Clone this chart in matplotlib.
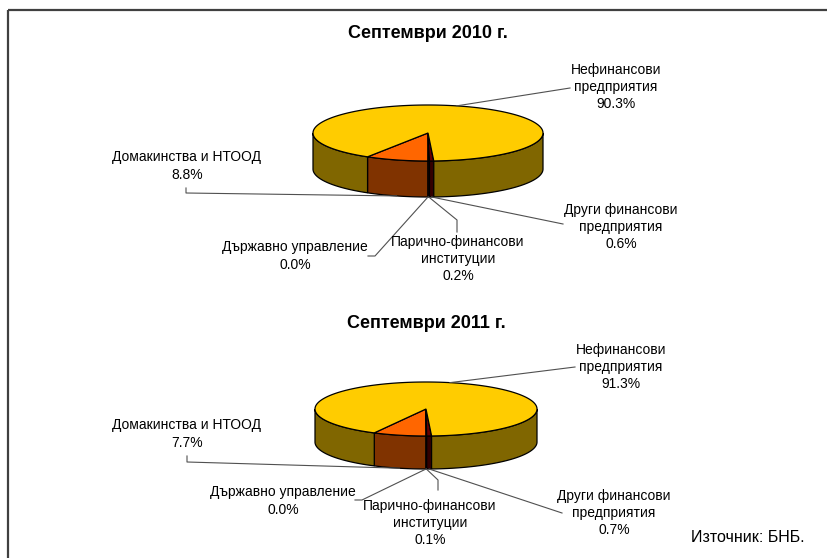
import numpy as np
import matplotlib
matplotlib.use("Agg")
import matplotlib.pyplot as plt
from matplotlib.patches import Polygon, Rectangle

plt.rcParams['font.family'] = ['Liberation Sans', 'DejaVu Sans']

# data
categories = ["Домакинства и НТООД", "Държавно управление",
              "Парично-финансови\nинституции", "Други финансови\nпредприятия",
              "Нефинансови\nпредприятия"]
share_2010 = [8.8, 0.0, 0.2, 0.6, 90.3]
share_2011 = [7.7, 0.0, 0.1, 0.7, 91.3]
titles = ["Септември 2010 г.", "Септември 2011 г."]
source = "Източник: БНБ."

top_colors = ["#FF6600", "#CC0000", "#800000", "#660000", "#FFCC00"]
side_colors = ["#803300", "#660000", "#400000", "#330000", "#806600"]


def arc(cx, cy, a, b, t0, t1, dy=0.0):
    t = np.radians(np.linspace(t0, t1, max(3, int(abs(t1 - t0) * 2))))
    return np.column_stack([cx + a * np.cos(t), cy - b * np.sin(t) + dy])


def draw_pie(ax, values, cx, cy, a, b, depth):
    total = sum(values)
    # first slice ends at 6 o'clock, slices run counter-clockwise from there
    start = 270.0 - values[0] / total * 360.0
    spans = []
    t = start
    for v in values:
        t1 = t + v / total * 360.0
        spans.append((t, t1))
        t = t1
    # outer walls (front half only)
    for (t0, t1), col in zip(spans, side_colors):
        for off in (0, 360):
            lo = max(t0, 180 + off)
            hi = min(t1, 360 + off)
            if hi > lo:
                top = arc(cx, cy, a, b, lo, hi)
                bot = arc(cx, cy, a, b, hi, lo, depth)
                ax.add_patch(Polygon(np.vstack([top, bot]), closed=True,
                                     facecolor=col, edgecolor="black", lw=0.9))
    # top faces
    for (t0, t1), col in zip(spans, top_colors):
        if t1 - t0 <= 0:
            continue
        pts = np.vstack([[cx, cy], arc(cx, cy, a, b, t0, t1)])
        ax.add_patch(Polygon(pts, closed=True, facecolor=col,
                             edgecolor="black", lw=0.9))
    return spans


def anchor(cx, cy, a, b, depth, ang):
    r = np.radians(ang)
    y = cy - b * np.sin(r)
    if np.sin(r) < 0:
        y += depth
    return cx + a * np.cos(r), y


fig = plt.figure(figsize=(8.28, 5.58), dpi=100)
ax = fig.add_axes([0, 0, 1, 1])
ax.set_xlim(0, 828)
ax.set_ylim(558, 0)
ax.axis("off")

ax.add_patch(Rectangle((8, 10), 840, 600, fill=False, edgecolor="#404040", lw=1.6))

# layout: pie geometry, label centres and leader-line elbows
pies = [
    dict(vals=share_2010, cx=428, cy=133, a=115, b=28, d=36, title_y=34,
         labels=[(187, 166), (295, 256), (458, 259), (621, 227), (616, 87)],
         elbows=[[(186, 193), (186, 188)], [(375, 256), (368, 256)],
                 [(457, 220), (457, 232)], [(563, 224)], [(570, 88)]]),
    dict(vals=share_2011, cx=426, cy=409, a=111, b=27, d=33, title_y=323,
         labels=[(187, 434), (283, 501), (430, 523), (614, 513), (621, 367)],
         elbows=[[(187, 462), (187, 456)], [(362, 500), (355, 500)],
                 [(438, 480), (438, 490)], [(562, 513)], [(575, 367)]]),
]

for p, title in zip(pies, titles):
    ax.text(p["cx"], p["title_y"], title, ha="center", va="center",
            fontsize=13, fontweight="bold")
    spans = draw_pie(ax, p["vals"], p["cx"], p["cy"], p["a"], p["b"], p["d"])
    for (t0, t1), name, val, (lx, ly), elb in zip(spans, categories, p["vals"],
                                                  p["labels"], p["elbows"]):
        sx, sy = anchor(p["cx"], p["cy"], p["a"], p["b"], p["d"], (t0 + t1) / 2)
        xs = [sx] + [e[0] for e in elb]
        ys = [sy] + [e[1] for e in elb]
        ax.plot(xs, ys, color="#505050", lw=0.8)
        ax.text(lx, ly, f"{name}\n{val:.1f}%", ha="center", va="center",
                fontsize=10, linespacing=1.28)

ax.text(748, 537, source, ha="center", va="center", fontsize=11.5)

fig.savefig("out.png", dpi=100)
